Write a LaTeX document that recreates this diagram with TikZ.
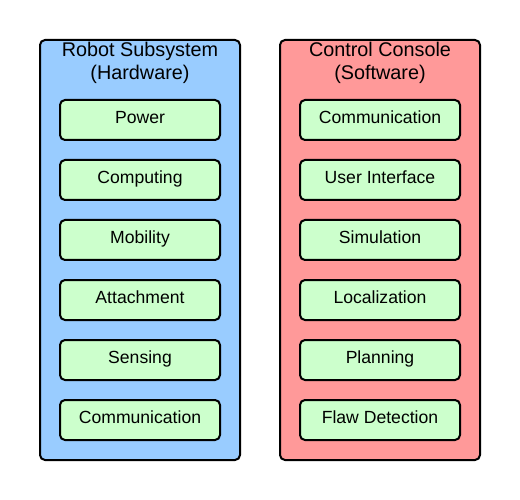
\documentclass[tikz,border=0pt]{standalone}
\usepackage{fontspec}
\setmainfont{Liberation Sans}
\definecolor{hwblue}{HTML}{99CCFF}
\definecolor{swred}{HTML}{FF9999}
\definecolor{partgreen}{HTML}{CCFFCC}
\tikzset{
  panel/.style={draw, line width=2pt, rounded corners=5pt, minimum width=200pt, minimum height=420pt},
  title/.style={align=center, font=\fontsize{19.8}{23}\selectfont},
  part/.style={draw, fill=partgreen, line width=2pt, rounded corners=5pt, minimum width=160pt, minimum height=40pt,
    text height=13pt, text depth=6pt, font=\fontsize{17.6}{20}\selectfont}
}
\begin{document}
\begin{tikzpicture}[x=1pt,y=-1pt]
\useasboundingbox (0,0) rectangle (520,500);
\node[panel, fill=hwblue] (hw) at (140,250) {};
\node[panel, fill=swred] (sw) at (380,250) {};

\node[title] (hwtitle) at (140,63) {Robot Subsystem\\(Hardware)};
\node[title] (swtitle) at (380,63) {Control Console\\(Software)};

\foreach \name/\txt [count=\i] in {power/Power, computing/Computing, mobility/Mobility,
    attachment/Attachment, sensing/Sensing, comm/Communication}
\node[part] (hw\name) at (140,60+60*\i) {\txt};

\foreach \name/\txt [count=\i] in {comm/Communication, ui/User Interface, sim/Simulation,
    loc/Localization, plan/Planning, flaw/Flaw Detection}
\node[part] (sw\name) at (380,60+60*\i) {\txt};
\end{tikzpicture}
\end{document}
